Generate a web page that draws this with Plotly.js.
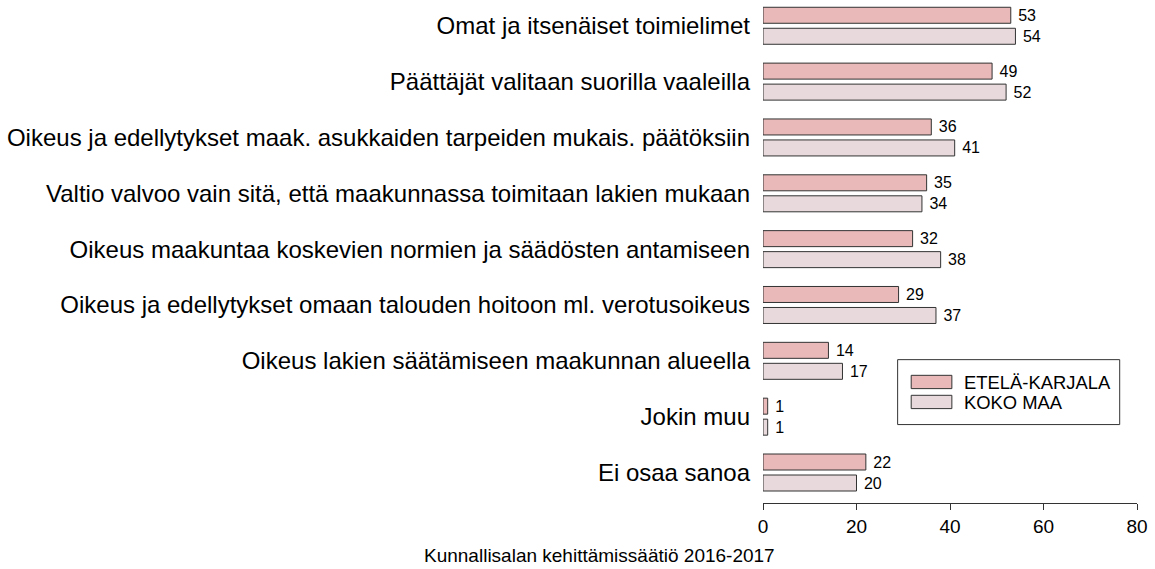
<!DOCTYPE html>
<html>
<head>
<meta charset="utf-8">
<script src="https://cdn.plot.ly/plotly-3.0.1.min.js"></script>
<style>html,body{margin:0;padding:0;background:#fff;}#chart{width:1155px;height:569px;}</style>
</head>
<body>
<div id="chart"></div>
<script>
const categories = [
  "Omat ja itsenäiset toimielimet",
  "Päättäjät valitaan suorilla vaaleilla",
  "Oikeus ja edellytykset maak. asukkaiden tarpeiden mukais. päätöksiin",
  "Valtio valvoo vain sitä, että maakunnassa toimitaan lakien mukaan",
  "Oikeus maakuntaa koskevien normien ja säädösten antamiseen",
  "Oikeus ja edellytykset omaan talouden hoitoon ml. verotusoikeus",
  "Oikeus lakien säätämiseen maakunnan alueella",
  "Jokin muu",
  "Ei osaa sanoa"
];
const seriesNames = ["ETELÄ-KARJALA", "KOKO MAA"];
const eteläKarjala = [53, 49, 36, 35, 32, 29, 14, 1, 22];
const kokoMaa = [54, 52, 41, 34, 38, 37, 17, 1, 20];
const xTicks = [0, 20, 40, 60, 80];
const sourceText = "Kunnallisalan kehittämissäätiö 2016-2017";

const colors = ["#E8B9B8", "#E8DADC"];
const FONT = "Liberation Sans, Arial, Helvetica, sans-serif";

function barTrace(vals, name, color) {
  return {
    type: "bar", orientation: "h",
    y: categories, x: vals, name: name,
    marker: {color: color, line: {color: "#333333", width: 1}},
    text: vals.map(v => "\u00a0" + v), textposition: "outside",
    textfont: {family: FONT, size: 16, color: "#000"},
    constraintext: "none", cliponaxis: false,
    hoverinfo: "x+name", showlegend: false
  };
}

const data = [
  barTrace(eteläKarjala, seriesNames[0], colors[0]),
  barTrace(kokoMaa, seriesNames[1], colors[1])
];

// legend drawn with shapes/annotations (x in data units, y in paper units)
const plotH = 503.5;
const py = p => (plotH - p) / plotH;
const shapes = [
  {type: "rect", xref: "x", yref: "paper", x0: 28.8, x1: 76.3, y0: py(425), y1: py(360),
   line: {color: "#333333", width: 1}, fillcolor: "#ffffff", layer: "below"},
  {type: "rect", xref: "x", yref: "paper", x0: 31.7, x1: 40.4, y0: py(389), y1: py(375.7),
   line: {color: "#333333", width: 1}, fillcolor: colors[0]},
  {type: "rect", xref: "x", yref: "paper", x0: 31.7, x1: 40.4, y0: py(409), y1: py(395.7),
   line: {color: "#333333", width: 1}, fillcolor: colors[1]}
];
const annotations = [
  {xref: "x", yref: "paper", x: 42.5, y: py(382.5), xanchor: "left", yanchor: "middle",
   text: seriesNames[0], showarrow: false, font: {family: FONT, size: 18.4, color: "#000"}},
  {xref: "x", yref: "paper", x: 42.5, y: py(402.5), xanchor: "left", yanchor: "middle",
   text: seriesNames[1], showarrow: false, font: {family: FONT, size: 18.4, color: "#000"}},
  {xref: "paper", yref: "paper", x: (599 - 762.7) / 374, y: py(556), xanchor: "center", yanchor: "middle",
   text: sourceText, showarrow: false, font: {family: FONT, size: 19, color: "#000"}}
];

const layout = {
  width: 1155, height: 569,
  margin: {l: 762.7, r: 18.3, t: 0, b: 65.5, pad: 0},
  paper_bgcolor: "#fff", plot_bgcolor: "#fff",
  barmode: "group", bargap: 0.248, bargroupgap: 0.238,
  font: {family: FONT, color: "#000"},
  xaxis: {
    range: [0, 80], tickvals: xTicks, ticktext: xTicks.map(String),
    showgrid: false, zeroline: false, showline: true, linecolor: "#333333", linewidth: 1,
    ticks: "outside", ticklen: 6, tickcolor: "#333333", tickwidth: 1,
    tickfont: {family: FONT, size: 19, color: "#000"}
  },
  yaxis: {
    type: "category", range: [8.546, -0.4615], autorange: false,
    showgrid: false, zeroline: false, showline: false, ticks: "",
    ticklabelstandoff: 12,
    tickfont: {family: FONT, size: 24, color: "#000"}
  },
  shapes: shapes, annotations: annotations, showlegend: false
};

Plotly.newPlot("chart", data, layout, {displayModeBar: false, staticPlot: true});
</script>
</body>
</html>
